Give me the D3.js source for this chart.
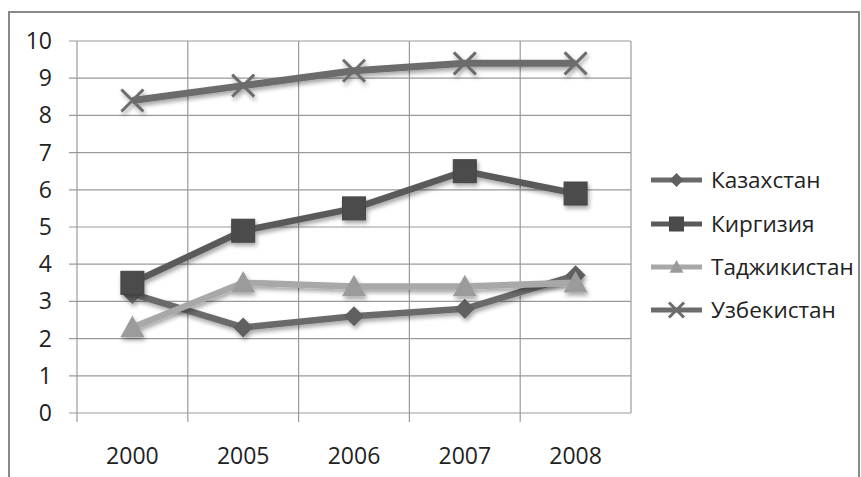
<!DOCTYPE html>
<html>
<head>
<meta charset="utf-8">
<script src="https://cdn.jsdelivr.net/npm/d3@7"></script>
<style>
  html, body { margin: 0; padding: 0; background: #fff; }
  svg { display: block; font-family: "Open Sans", "DejaVu Sans", sans-serif; }
</style>
</head>
<body>
<svg id="chart" width="861" height="477"></svg>
<script>
// Years along the horizontal axis
const years = ["2000", "2005", "2006", "2007", "2008"];
// Series values per country
const kazakhstan = [3.2, 2.3, 2.6, 2.8, 3.7];
const kyrgyzstan = [3.5, 4.9, 5.5, 6.5, 5.9];
const tajikistan = [2.3, 3.5, 3.4, 3.4, 3.5];
const uzbekistan = [8.4, 8.8, 9.2, 9.4, 9.4];
// Series names shown in the legend
const seriesNames = ["Казахстан", "Киргизия", "Таджикистан", "Узбекистан"];
// Value axis tick labels
const yTicks = [0, 1, 2, 3, 4, 5, 6, 7, 8, 9, 10];

const series = [
  { name: seriesNames[0], values: kazakhstan, line: "#6a6a6a", fill: "#606060", marker: "diamond", width: 6.5 },
  { name: seriesNames[1], values: kyrgyzstan, line: "#5a5a5a", fill: "#4b4b4b", marker: "square", width: 6.5 },
  { name: seriesNames[2], values: tajikistan, line: "#a8a8a8", fill: "#9b9b9b", marker: "triangle", width: 6.5 },
  { name: seriesNames[3], values: uzbekistan, line: "#6c6c6c", fill: "#6c6c6c", marker: "cross", width: 7 }
];

const svg = d3.select("#chart");
const plot = { left: 77, right: 631, top: 41, bottom: 413 };

// Soft drop shadow under lines and markers
const defs = svg.append("defs");
const f = defs.append("filter").attr("id", "shadow")
  .attr("x", "-20%").attr("y", "-20%").attr("width", "140%").attr("height", "140%");
f.append("feDropShadow").attr("dx", 1.5).attr("dy", 3).attr("stdDeviation", 2)
  .attr("flood-color", "#000").attr("flood-opacity", 0.35);

// Outer chart frame
svg.append("rect")
  .attr("x", 9).attr("y", 12).attr("width", 850).attr("height", 480)
  .attr("fill", "#fff").attr("stroke", "#8a8a8a").attr("stroke-width", 2);

const x = d3.scaleBand().domain(years).range([plot.left, plot.right]).padding(0);
const y = d3.scaleLinear().domain([0, 10]).range([plot.bottom, plot.top]);

const grid = svg.append("g").attr("stroke", "#9a9a9a").attr("stroke-width", 1.2);
// Horizontal grid lines with short outward ticks
grid.selectAll("line.h").data(yTicks).join("line").attr("class", "h")
  .attr("x1", plot.left - 8).attr("x2", plot.right)
  .attr("y1", d => y(d)).attr("y2", d => y(d));
// Vertical grid lines at category boundaries, extending below as ticks
const bounds = years.map(d => x(d)).concat([plot.right]);
grid.selectAll("line.v").data(bounds).join("line").attr("class", "v")
  .attr("x1", d => d).attr("x2", d => d)
  .attr("y1", plot.top).attr("y2", (d, i) => i === bounds.length - 1 ? plot.bottom : plot.bottom + 9);

// Value axis labels
svg.append("g").selectAll("text").data(yTicks).join("text")
  .attr("x", 52).attr("y", d => y(d)).attr("dy", "0.35em")
  .attr("text-anchor", "end").attr("font-size", 23).attr("fill", "#222")
  .text(d => d);

// Category axis labels
svg.append("g").selectAll("text").data(years).join("text")
  .attr("x", d => x(d) + x.bandwidth() / 2).attr("y", 456).attr("dy", "0.35em")
  .attr("text-anchor", "middle").attr("font-size", 23).attr("fill", "#222")
  .text(d => d);

function drawMarker(g, type, cx, cy, s, color) {
  if (type === "square") {
    g.append("rect").attr("x", cx - s / 2).attr("y", cy - s / 2).attr("width", s).attr("height", s)
      .attr("fill", color).attr("stroke", "#444").attr("stroke-width", 1);
  } else if (type === "diamond") {
    const h = s / 2;
    g.append("path").attr("d", `M${cx},${cy - h}L${cx + h},${cy}L${cx},${cy + h}L${cx - h},${cy}Z`)
      .attr("fill", color);
  } else if (type === "triangle") {
    const h = s * 0.9;
    g.append("path").attr("d", `M${cx},${cy - h * 0.55}L${cx + s / 2},${cy + h * 0.45}L${cx - s / 2},${cy + h * 0.45}Z`)
      .attr("fill", color);
  } else if (type === "cross") {
    const h = s / 2;
    g.append("path").attr("d", `M${cx - h},${cy - h}L${cx + h},${cy + h}M${cx - h},${cy + h}L${cx + h},${cy - h}`)
      .attr("stroke", color).attr("stroke-width", 3).attr("fill", "none");
  }
}

const markerSize = { square: 23, diamond: 20, triangle: 24, cross: 22 };
const lineGen = d3.line().x((d, i) => x(years[i]) + x.bandwidth() / 2).y(d => y(d));

series.forEach(s => {
  const g = svg.append("g").attr("filter", "url(#shadow)");
  g.append("path").datum(s.values).attr("d", lineGen)
    .attr("fill", "none").attr("stroke", s.line).attr("stroke-width", s.width)
    .attr("stroke-linejoin", "round");
  s.values.forEach((v, i) => {
    drawMarker(g, s.marker, x(years[i]) + x.bandwidth() / 2, y(v), markerSize[s.marker], s.fill);
  });
});

// Legend
const legendY = [180, 224, 267, 310];
series.forEach((s, i) => {
  const g = svg.append("g");
  const ly = legendY[i];
  g.append("line").attr("x1", 651).attr("x2", 702).attr("y1", ly).attr("y2", ly)
    .attr("stroke", s.line).attr("stroke-width", 5);
  drawMarker(g, s.marker, 676.5, ly, s.marker === "cross" ? 15 : 14, s.fill);
  svg.append("text").attr("x", 711).attr("y", ly).attr("dy", "0.35em")
    .attr("font-size", 22.5).attr("fill", "#222").text(s.name);
});
</script>
</body>
</html>
